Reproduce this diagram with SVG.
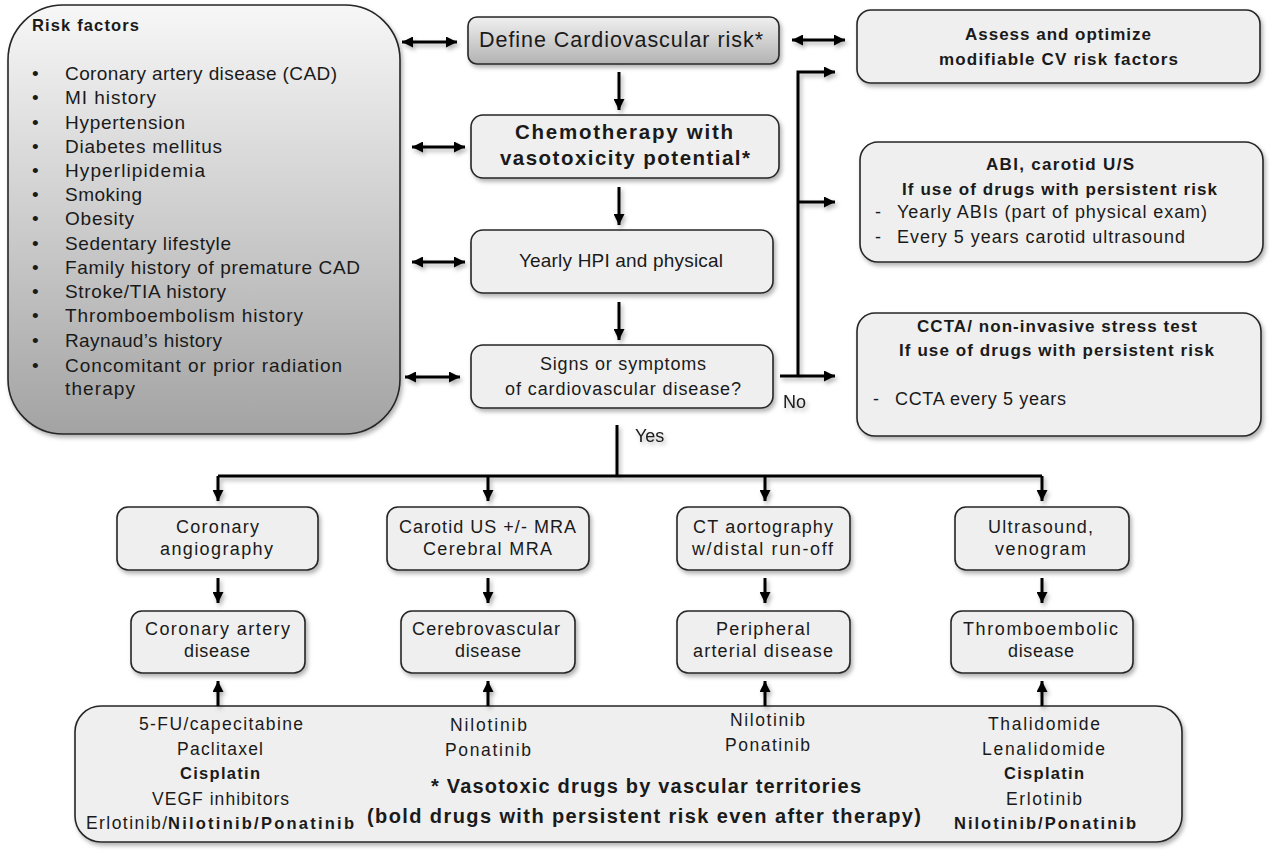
<svg xmlns="http://www.w3.org/2000/svg" width="1270" height="852" viewBox="0 0 1270 852">
<defs>
<linearGradient id="gRisk" x1="0" y1="0" x2="0" y2="1">
<stop offset="0" stop-color="#f7f7f7"/>
<stop offset="1" stop-color="#a3a3a3"/>
</linearGradient>
<linearGradient id="gDef" x1="0" y1="0" x2="0" y2="1">
<stop offset="0" stop-color="#f0f0f0"/>
<stop offset="1" stop-color="#b2b2b2"/>
</linearGradient>
<filter id="sh" x="-10%" y="-10%" width="130%" height="140%">
<feDropShadow dx="2" dy="3" stdDeviation="2" flood-color="#000" flood-opacity="0.3"/>
</filter>
<marker id="ah" viewBox="0 0 10 10" refX="10" refY="5" markerWidth="11" markerHeight="11" markerUnits="userSpaceOnUse" orient="auto-start-reverse">
<path d="M0,0 L10,5 L0,10 Z" fill="#000"/>
</marker>
<style>
.box{fill:#efefef;stroke:#262626;stroke-width:1.6;filter:url(#sh)}
.t{font-family:"Liberation Sans",Arial,sans-serif;fill:#1a1a1a}
.b{font-weight:bold}
.s18{font-size:19px}
.s17{font-size:18px}
.s17b{font-size:17px}
.s16{font-size:17.5px}
.s16b{font-size:16.5px}
.s20{font-size:20px}
.c{fill:none;stroke:#000;stroke-width:3}
.a{marker-end:url(#ah)}
.d{marker-start:url(#ah);marker-end:url(#ah)}
</style>
</defs>
<rect width="1270" height="852" fill="#fff"/>

<g id="risk-factors">
<rect x="8" y="5" width="392" height="429" rx="55" fill="url(#gRisk)" stroke="#262626" stroke-width="1.6" filter="url(#sh)"/>
<text class="t b" font-size="16.5" x="32" y="31" textLength="107">Risk factors</text>
<g class="t s18">
<text x="32" y="80">•</text><text x="65" y="80" textLength="272">Coronary artery disease (CAD)</text>
<text x="32" y="104">•</text><text x="65" y="104" textLength="91">MI history</text>
<text x="32" y="129">•</text><text x="65" y="129" textLength="120">Hypertension</text>
<text x="32" y="153">•</text><text x="65" y="153" textLength="157">Diabetes mellitus</text>
<text x="32" y="177">•</text><text x="65" y="177" textLength="140">Hyperlipidemia</text>
<text x="32" y="201">•</text><text x="65" y="201" textLength="77">Smoking</text>
<text x="32" y="225">•</text><text x="65" y="225" textLength="69">Obesity</text>
<text x="32" y="250">•</text><text x="65" y="250" textLength="166">Sedentary lifestyle</text>
<text x="32" y="274">•</text><text x="65" y="274" textLength="295">Family history of premature CAD</text>
<text x="32" y="298">•</text><text x="65" y="298" textLength="161">Stroke/TIA history</text>
<text x="32" y="322">•</text><text x="65" y="322" textLength="238">Thromboembolism history</text>
<text x="32" y="347">•</text><text x="65" y="347" textLength="157">Raynaud’s history</text>
<text x="32" y="372">•</text><text x="65" y="372" textLength="277">Concomitant or prior radiation</text>
<text x="65" y="395" textLength="70">therapy</text>
</g>
</g>

<g id="define-risk">
<rect x="468" y="17" width="311" height="47" rx="9" fill="url(#gDef)" stroke="#262626" stroke-width="1.6" filter="url(#sh)"/>
<text class="t" font-size="21.5" x="479" y="47" textLength="284">Define Cardiovascular risk*</text>
</g>

<g id="chemo">
<rect class="box" x="471" y="115" width="308" height="63" rx="12"/>
<text class="t b" font-size="20.5" x="515" y="139" textLength="218">Chemotherapy with</text>
<text class="t b" font-size="20.5" x="500" y="165" textLength="250">vasotoxicity potential*</text>
</g>

<g id="yearly-hpi">
<rect class="box" x="471" y="230" width="302" height="63" rx="12"/>
<text class="t s18" x="519" y="267" textLength="204">Yearly HPI and physical</text>
</g>

<g id="signs">
<rect class="box" x="471" y="345" width="302" height="63" rx="12"/>
<text class="t s17" x="540" y="370" textLength="166">Signs or symptoms</text>
<text class="t s17" x="505" y="395" textLength="236">of cardiovascular disease?</text>
</g>

<g id="assess">
<rect class="box" x="857" y="10" width="403" height="73" rx="14"/>
<text class="t b s17b" x="965" y="40" textLength="186">Assess and optimize</text>
<text class="t b s17b" x="939" y="65" textLength="239">modifiable CV risk factors</text>
</g>

<g id="abi">
<rect class="box" x="860" y="142" width="403" height="120" rx="18"/>
<text class="t b s17b" x="986" y="170" textLength="148">ABI, carotid U/S</text>
<text class="t b s17b" x="902" y="195" textLength="315">If use of drugs with persistent risk</text>
<text class="t s17" x="875" y="218">-</text>
<text class="t s17" x="897" y="218" textLength="310">Yearly ABIs (part of physical exam)</text>
<text class="t s17" x="875" y="243">-</text>
<text class="t s17" x="897" y="243" textLength="288">Every 5 years carotid ultrasound</text>
</g>

<g id="ccta">
<rect class="box" x="857" y="313" width="404" height="123" rx="18"/>
<text class="t b s17b" x="917" y="332" textLength="280">CCTA/ non-invasive stress test</text>
<text class="t b s17b" x="899" y="356" textLength="315">If use of drugs with persistent risk</text>
<text class="t s17" x="873" y="405">-</text>
<text class="t s17" x="895" y="405" textLength="171">CCTA every 5 years</text>
</g>

<g id="coronary-angiography">
<rect class="box" x="117" y="507" width="201" height="63" rx="11"/>
<text class="t s17" x="176" y="533" textLength="83">Coronary</text>
<text class="t s17" x="160" y="555" textLength="113">angiography</text>
</g>
<g id="carotid-us">
<rect class="box" x="387" y="507" width="202" height="63" rx="11"/>
<text class="t s17" x="399" y="533" textLength="177">Carotid US +/- MRA</text>
<text class="t s17" x="423" y="555" textLength="129">Cerebral MRA</text>
</g>
<g id="ct-aortography">
<rect class="box" x="677" y="507" width="173" height="63" rx="11"/>
<text class="t s17" x="693" y="533" textLength="140">CT aortography</text>
<text class="t s17" x="692" y="555" textLength="141">w/distal run-off</text>
</g>
<g id="ultrasound">
<rect class="box" x="955" y="507" width="174" height="63" rx="11"/>
<text class="t s17" x="988" y="533" textLength="105">Ultrasound,</text>
<text class="t s17" x="995" y="555" textLength="91">venogram</text>
</g>

<g id="cad">
<rect class="box" x="131" y="611" width="174" height="62" rx="11"/>
<text class="t s17" x="145" y="635" textLength="145">Coronary artery</text>
<text class="t s17" x="184" y="657" textLength="66">disease</text>
</g>
<g id="cerebrovascular">
<rect class="box" x="401" y="611" width="174" height="62" rx="11"/>
<text class="t s17" x="412" y="635" textLength="148">Cerebrovascular</text>
<text class="t s17" x="455" y="657" textLength="66">disease</text>
</g>
<g id="pad">
<rect class="box" x="677" y="611" width="173" height="62" rx="11"/>
<text class="t s17" x="716" y="635" textLength="94">Peripheral</text>
<text class="t s17" x="693" y="657" textLength="140">arterial disease</text>
</g>
<g id="thromboembolic">
<rect class="box" x="951" y="611" width="182" height="62" rx="11"/>
<text class="t s17" x="963" y="635" textLength="155">Thromboembolic</text>
<text class="t s17" x="1008" y="657" textLength="66">disease</text>
</g>

<g id="vasotoxic-drugs">
<rect class="box" x="75" y="706" width="1107" height="136" rx="26"/>
<text class="t s16" x="139" y="730" textLength="164">5-FU/capecitabine</text>
<text class="t s16" x="177" y="755" textLength="86">Paclitaxel</text>
<text class="t s16b b" x="180" y="779" textLength="80">Cisplatin</text>
<text class="t s16" x="152" y="805" textLength="137">VEGF inhibitors</text>
<text class="t s16" x="86" y="829" textLength="81">Erlotinib/</text>
<text class="t s16b b" x="168" y="829" textLength="186">Nilotinib/Ponatinib</text>
<text class="t s16" x="450" y="731" textLength="77">Nilotinib</text>
<text class="t s16" x="445" y="756" textLength="86">Ponatinib</text>
<text class="t s20 b" x="431" y="793" textLength="430">* Vasotoxic drugs by vascular territories</text>
<text class="t s20 b" x="367" y="823" textLength="554">(bold drugs with persistent risk even after therapy)</text>
<text class="t s16" x="730" y="726" textLength="75">Nilotinib</text>
<text class="t s16" x="725" y="751" textLength="85">Ponatinib</text>
<text class="t s16" x="988" y="730" textLength="112">Thalidomide</text>
<text class="t s16" x="982" y="755" textLength="123">Lenalidomide</text>
<text class="t s16b b" x="1004" y="779" textLength="80">Cisplatin</text>
<text class="t s16" x="1006" y="805" textLength="76">Erlotinib</text>
<text class="t s16b b" x="954" y="829" textLength="182">Nilotinib/Ponatinib</text>
</g>

<g id="connectors" filter="url(#sh)">
<path class="c d" d="M402,42 H457"/>
<path class="c d" d="M412,147 H465"/>
<path class="c d" d="M412,262 H465"/>
<path class="c d" d="M405,377 H460"/>
<path class="c d" d="M792,40 H845"/>
<path class="c a" d="M619,72 V110"/>
<path class="c a" d="M619,187 V225"/>
<path class="c a" d="M619,302 V340"/>
<path class="c a" d="M780,376 H835"/>
<path class="c a" d="M798,376 V72 H835"/>
<path class="c a" d="M798,202 H835"/>
<path class="c" d="M617,425 V476"/>
<path class="c" d="M218,476 H1042"/>
<path class="c a" d="M218,476 V501"/>
<path class="c a" d="M488,476 V501"/>
<path class="c a" d="M765,476 V501"/>
<path class="c a" d="M1042,476 V501"/>
<path class="c a" d="M218,578 V603"/>
<path class="c a" d="M488,578 V603"/>
<path class="c a" d="M765,578 V603"/>
<path class="c a" d="M1042,578 V603"/>
<path class="c a" d="M218,706 V681"/>
<path class="c a" d="M488,706 V681"/>
<path class="c a" d="M765,706 V681"/>
<path class="c a" d="M1042,706 V681"/>
<text class="t s17" x="783" y="408" filter="none">No</text>
<text class="t s17" x="635" y="442" filter="none">Yes</text>
</g>
</svg>
